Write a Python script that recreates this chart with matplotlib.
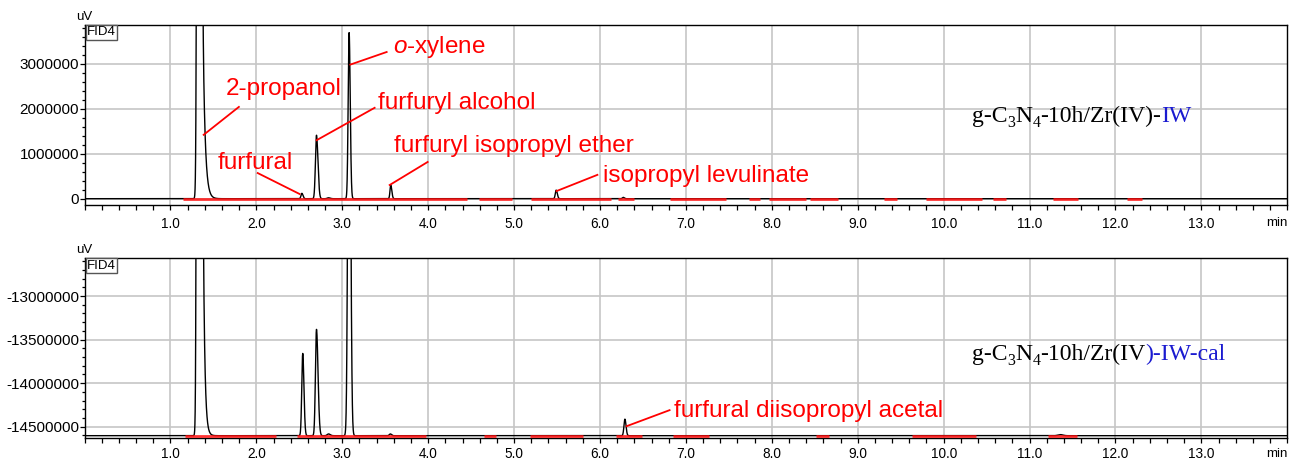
import numpy as np
import matplotlib
matplotlib.use("Agg")
import matplotlib.pyplot as plt
from matplotlib.ticker import MultipleLocator, FixedLocator, FuncFormatter

plt.rcParams['font.family'] = ['Liberation Sans', 'DejaVu Sans']
plt.rcParams['axes.unicode_minus'] = False
plt.rcParams['mathtext.fontset'] = 'custom'
plt.rcParams['mathtext.rm'] = 'Liberation Sans'
plt.rcParams['mathtext.it'] = 'Liberation Sans:italic'

# ---------------- data ----------------
# upper trace: g-C3N4-10h/Zr(IV)-IW
top_baseline = 0.0
top_peak_times = [1.335, 2.53, 2.70, 2.84, 3.08, 3.565, 5.49, 6.27]
top_peak_heights = [1.0e8, 0.12e6, 1.41e6, 0.02e6, 3.69e6, 0.30e6, 0.19e6, 0.03e6]
top_peak_sigma_left = [0.0137, 0.010, 0.012, 0.015, 0.011, 0.009, 0.010, 0.010]
top_peak_sigma_right = [0.0137, 0.013, 0.017, 0.020, 0.013, 0.012, 0.013, 0.012]
top_tail_start = [1.345]
top_tail_height = [1.5e7]
top_tail_tau = [0.025]
top_red_segments = [(1.15, 4.45), (4.59, 4.98), (5.20, 6.13), (6.21, 6.40), (6.81, 7.47),
                    (7.74, 7.86), (7.97, 8.40), (8.44, 8.77), (9.31, 9.46), (9.80, 10.45),
                    (10.57, 10.73), (11.27, 11.56), (12.14, 12.31)]

# lower trace: g-C3N4-10h/Zr(IV)-IW-cal
bot_baseline = -14.603e6
bot_peak_times = [1.335, 2.54, 2.70, 2.84, 3.08, 3.56, 6.29, 11.36]
bot_peak_heights = [1.0e8, 0.944e6, 1.22e6, 0.02e6, 6.0e6, 0.02e6, 0.19e6, 0.012e6]
bot_peak_sigma_left = [0.0137, 0.011, 0.012, 0.015, 0.014, 0.012, 0.011, 0.03]
bot_peak_sigma_right = [0.0137, 0.014, 0.018, 0.020, 0.016, 0.014, 0.013, 0.03]
bot_tail_start = [1.35]
bot_tail_height = [1.5e7]
bot_tail_tau = [0.018]
bot_red_segments = [(1.17, 2.23), (2.47, 3.98), (4.65, 4.79), (5.18, 5.80), (6.19, 6.49),
                    (6.85, 7.27), (8.51, 8.67), (9.63, 10.38), (11.21, 11.55)]

top_yticks = [0, 1000000, 2000000, 3000000]
bot_yticks = [-14500000, -14000000, -13500000, -13000000]
xtick_values = [1.0, 2.0, 3.0, 4.0, 5.0, 6.0, 7.0, 8.0, 9.0, 10.0, 11.0, 12.0, 13.0]

top_labels = ["2-propanol", "furfural", "furfuryl alcohol", r"$\mathit{o}$-xylene",
              "furfuryl isopropyl ether", "isopropyl levulinate"]
top_label_pos = [(1.643, 2.44e6), (1.550, 0.80e6), (3.413, 2.13e6), (3.587, 3.38e6),
                 (3.598, 1.17e6), (6.03, 0.50e6)]
top_line_start = [(1.797, 2.04e6), (2.016, 0.57e6), (3.377, 2.02e6), (3.517, 3.26e6),
                  (3.994, 0.816e6), (5.97, 0.53e6)]
top_line_end = [(1.387, 1.42e6), (2.504, 0.104e6), (2.702, 1.30e6), (3.094, 2.98e6),
                (3.552, 0.304e6), (5.495, 0.17e6)]

bot_labels = ["furfural diisopropyl acetal"]
bot_label_pos = [(6.857, -14.32e6)]
bot_line_start = [(6.81, -14.31e6)]
bot_line_end = [(6.31, -14.494e6)]

# sample names: (text, colour, is_subscript)
top_sample = [("g-C", "black", False), ("3", "black", True), ("N", "black", False),
              ("4", "black", True), ("-10h/Zr(IV)-", "black", False), ("IW", "#1a1ad0", False)]
bot_sample = [("g-C", "black", False), ("3", "black", True), ("N", "black", False),
              ("4", "black", True), ("-10h/Zr(IV", "black", False), (")-IW-cal", "#1a1ad0", False)]

# ---------------- build traces ----------------
t = np.linspace(0.0, 14.0, 14001)


def trace(base, times, heights, sl, sr, ts, th, tt):
    y = np.full_like(t, base)
    for t0, h, a, b in zip(times, heights, sl, sr):
        s = np.where(t < t0, a, b)
        y += h * np.exp(-0.5 * ((t - t0) / s) ** 2)
    for t0, h, tau in zip(ts, th, tt):
        y += np.where(t >= t0, h * np.exp(-np.clip(t - t0, 0, None) / tau), 0.0)
    return y


y_top = trace(top_baseline, top_peak_times, top_peak_heights, top_peak_sigma_left,
              top_peak_sigma_right, top_tail_start, top_tail_height, top_tail_tau)
y_bot = trace(bot_baseline, bot_peak_times, bot_peak_heights, bot_peak_sigma_left,
              bot_peak_sigma_right, bot_tail_start, bot_tail_height, bot_tail_tau)

W, H = 1290, 461
fig = plt.figure(figsize=(W / 100, H / 100), dpi=100)
left, right = 84.5 / W, 1287.3 / W
ax_top = fig.add_axes([left, 1 - 205 / H, right - left, (205 - 25) / H])
ax_bot = fig.add_axes([left, 1 - 438.3 / H, right - left, (438.3 - 258.3) / H])

fmt = FuncFormatter(lambda v, p: f"{int(round(v))}")


def style(ax, ylim, yticks, yminor, xpad):
    ax.set_xlim(0, 14.0)
    ax.set_ylim(*ylim)
    ax.xaxis.set_major_locator(FixedLocator(xtick_values))
    ax.xaxis.set_minor_locator(MultipleLocator(0.2))
    ax.xaxis.set_major_formatter(FuncFormatter(lambda v, p: f"{v:.1f}"))
    ax.yaxis.set_major_locator(FixedLocator(yticks))
    ax.yaxis.set_minor_locator(MultipleLocator(yminor))
    ax.yaxis.set_major_formatter(fmt)
    ax.grid(True, which='major', color='#c6c6c6', lw=1.2, zorder=0)
    ax.set_axisbelow(True)
    ax.tick_params(axis='x', which='both', direction='out', length=3.5, width=0.9,
                   labelsize=9.8, pad=xpad, color='black')
    ax.tick_params(axis='y', which='major', direction='out', length=3.5, width=0.9,
                   labelsize=11, pad=0.5)
    ax.tick_params(axis='y', which='minor', direction='out', length=2.2, width=0.9)
    for sp in ax.spines.values():
        sp.set_color('black')
        sp.set_linewidth(1.0)
    ax.text(0.002, 0.993, "FID4", transform=ax.transAxes, ha='left', va='top', fontsize=9.5,
            bbox=dict(boxstyle='square,pad=0.1', fc='white', ec='#555555', lw=1.0), zorder=6)


style(ax_top, (-0.14e6, 3.86e6), top_yticks, 200000, 5.0)
style(ax_bot, (-14.633e6, -12.567e6), bot_yticks, 100000, 3.0)

for ax, y, base, segs in [(ax_top, y_top, top_baseline, top_red_segments),
                          (ax_bot, y_bot, bot_baseline, bot_red_segments)]:
    ax.plot(t, y, color='black', lw=1.0, zorder=3)
    for a, b in segs:
        ax.plot([a, b], [base, base], color='#ff1010', lw=2.0, alpha=0.85, zorder=4,
                solid_capstyle='butt')

for ax, labels, pos, ls, le in [(ax_top, top_labels, top_label_pos, top_line_start, top_line_end),
                                (ax_bot, bot_labels, bot_label_pos, bot_line_start, bot_line_end)]:
    for lab, p, s, e in zip(labels, pos, ls, le):
        ax.plot([s[0], e[0]], [s[1], e[1]], color='red', lw=1.3, zorder=5)
        ax.text(p[0], p[1], lab, color='red', fontsize=17.5, ha='left', va='center', zorder=6)

# unit labels
for ycen in (17, 250):
    fig.text(84 / W, 1 - ycen / H, "uV", ha='center', va='center', fontsize=9.5)
for ycen in (223, 454):
    fig.text(1277 / W, 1 - ycen / H, "min", ha='center', va='center', fontsize=9.5)

# sample names (black part followed by blue part, with subscripts)
fig.canvas.draw()
renderer = fig.canvas.get_renderer()
size = 17.0
for parts, ybase in [(top_sample, 122), (bot_sample, 360)]:
    x = 972.0
    for s, c, sub in parts:
        fs = size * 0.68 if sub else size
        yb = ybase + (size * 0.28 if sub else 0.0)
        txt = fig.text(x / W, 1 - yb / H, s, family='Liberation Serif', fontsize=fs,
                       color=c, ha='left', va='baseline')
        bb = txt.get_window_extent(renderer=renderer)
        x = bb.x1

fig.savefig("out.png", dpi=100)
